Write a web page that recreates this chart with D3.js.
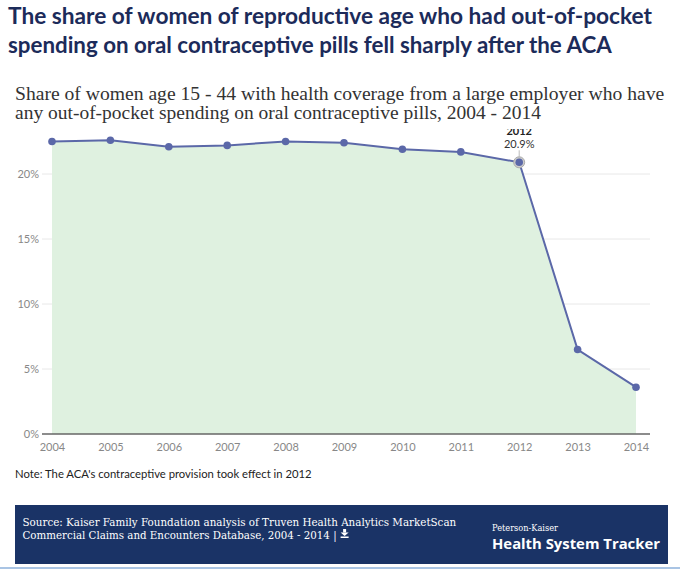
<!DOCTYPE html>
<html>
<head>
<meta charset="utf-8">
<script src="https://cdn.jsdelivr.net/npm/d3@7"></script>
<style>
  html, body { margin: 0; padding: 0; background: #fff; }
  svg { display: block; }
</style>
</head>
<body>
<svg id="chart" width="680" height="573"></svg>
<script>
const years = [2004, 2005, 2006, 2007, 2008, 2009, 2010, 2011, 2012, 2013, 2014];
const shares = [22.5, 22.6, 22.1, 22.2, 22.5, 22.4, 21.9, 21.7, 20.9, 6.5, 3.6];
const yTicks = [0, 5, 10, 15, 20];
const titleLines = [
  "The share of women of reproductive age who had out-of-pocket",
  "spending on oral contraceptive pills fell sharply after the ACA"
];
const subtitleLines = [
  "Share of women age 15 - 44 with health coverage from a large employer who have",
  "any out-of-pocket spending on oral contraceptive pills, 2004 - 2014"
];
const noteText = "Note: The ACA's contraceptive provision took effect in 2012";
const sourceLines = [
  "Source: Kaiser Family Foundation analysis of Truven Health Analytics MarketScan",
  "Commercial Claims and Encounters Database, 2004 - 2014 |"
];
const highlightYear = 2012;

const svg = d3.select("#chart");
const data = years.map((y, i) => ({ year: y, value: shares[i] }));

// scale a text's font size so it spans the given width
function fitWidth(sel, width) {
  const fs = parseFloat(sel.attr("font-size"));
  const len = sel.node().getComputedTextLength();
  if (len > 0) sel.attr("font-size", (fs * width / len).toFixed(2));
  return sel;
}

// Title
titleLines.forEach((t, i) => {
  const tt = svg.append("text")
    .attr("x", 8).attr("y", 24 + i * 29)
    .attr("font-family", "Lato, 'Open Sans', sans-serif")
    .attr("font-weight", 700)
    .attr("font-size", 23)
    .attr("fill", "#1c2b5a")
    .text(t);
  if (i === 0) fitWidth(tt, 644);
  else fitWidth(tt, 604);
});

// Subtitle
subtitleLines.forEach((t, i) => {
  const st = svg.append("text")
    .attr("x", 15).attr("y", 100 + i * 19)
    .attr("font-family", "'Liberation Serif', 'DejaVu Serif', serif")
    .attr("font-size", 18)
    .attr("fill", "#333")
    .text(t);
  if (i === 0) fitWidth(st, 650);
  else fitWidth(st, 526);
});

// Scales
const x = d3.scaleLinear().domain([2004, 2014]).range([52, 636]);
const y = d3.scaleLinear().domain([0, 20]).range([434, 174]);

// Clip
svg.append("defs").append("clipPath").attr("id", "plotclip")
  .append("rect").attr("x", 0).attr("y", 129).attr("width", 680).attr("height", 330);

// Grid
svg.append("g").selectAll("line").data(yTicks.filter(d => d > 0)).join("line")
  .attr("x1", 42).attr("x2", 650)
  .attr("y1", d => y(d)).attr("y2", d => y(d))
  .attr("stroke", "#e8e8e8").attr("stroke-width", 1);

// Area
const area = d3.area().x(d => x(d.year)).y0(y(0)).y1(d => y(d.value));
svg.append("path").datum(data)
  .attr("d", area)
  .attr("fill", "#dff1e0");

// Y axis labels
const yAxis = d3.axisLeft(y).tickValues(yTicks).tickFormat(d => d + "%").tickSize(0).tickPadding(0);
const yg = svg.append("g").attr("transform", "translate(39,0)").call(yAxis);
yg.select(".domain").remove();
yg.selectAll("text")
  .attr("font-family", "Lato, 'Open Sans', sans-serif")
  .attr("font-size", 11)
  .attr("fill", "#888")
  .attr("dy", "0.32em");

// X axis
const xAxis = d3.axisBottom(x).tickValues(years).tickFormat(d3.format("d")).tickSize(0).tickPadding(9);
const xg = svg.append("g").attr("transform", `translate(0,${y(0)})`).call(xAxis);
xg.select(".domain").remove();
xg.selectAll("text")
  .attr("font-family", "Lato, 'Open Sans', sans-serif")
  .attr("font-size", 11)
  .attr("fill", "#888");
svg.append("line")
  .attr("x1", 42).attr("x2", 650).attr("y1", y(0)).attr("y2", y(0))
  .attr("stroke", "#666").attr("stroke-width", 1.5);

// Line
const line = d3.line().x(d => x(d.year)).y(d => y(d.value));
svg.append("path").datum(data)
  .attr("d", line)
  .attr("fill", "none")
  .attr("stroke", "#5b68a8")
  .attr("stroke-width", 2);

// Highlight ring
const hl = data.find(d => d.year === highlightYear);
svg.append("circle")
  .attr("cx", x(hl.year)).attr("cy", y(hl.value)).attr("r", 5.5)
  .attr("fill", "#ccc").attr("stroke", "#aaa").attr("stroke-width", 1);

// Points
svg.selectAll("circle.pt").data(data).join("circle")
  .attr("class", "pt")
  .attr("cx", d => x(d.year)).attr("cy", d => y(d.value))
  .attr("r", 3.8)
  .attr("fill", "#5b68a8");

// Annotation
const ann = svg.append("g").attr("clip-path", "url(#plotclip)");
ann.append("line")
  .attr("x1", x(hl.year)).attr("x2", x(hl.year))
  .attr("y1", y(hl.value) - 12).attr("y2", y(hl.value) - 5)
  .attr("stroke", "#bbb").attr("stroke-width", 1);
ann.append("text")
  .attr("x", x(hl.year)).attr("y", 135)
  .attr("text-anchor", "middle")
  .attr("font-family", "Lato, 'Open Sans', sans-serif")
  .attr("font-weight", 700)
  .attr("font-size", 11)
  .attr("fill", "#222")
  .text(hl.year);
ann.append("text")
  .attr("x", x(hl.year)).attr("y", 148)
  .attr("text-anchor", "middle")
  .attr("font-family", "Lato, 'Open Sans', sans-serif")
  .attr("font-size", 11)
  .attr("fill", "#333")
  .text(d3.format(".1f")(hl.value) + "%");

// Note
const note = svg.append("text")
  .attr("x", 15).attr("y", 478)
  .attr("font-family", "Lato, 'Open Sans', sans-serif")
  .attr("font-size", 11.5)
  .attr("fill", "#222")
  .text(noteText);
fitWidth(note, 297);

// Footer
svg.append("rect")
  .attr("x", 15).attr("y", 505).attr("width", 653).attr("height", 59)
  .attr("fill", "#1a3366");
let srcEnd = 0;
sourceLines.forEach((t, i) => {
  const s = svg.append("text")
    .attr("x", 22.5).attr("y", 526 + i * 12.5)
    .attr("font-family", "'DejaVu Serif', 'Liberation Serif', serif")
    .attr("font-size", 11)
    .attr("fill", "#fff")
    .text(t);
  if (i === 0) fitWidth(s, 434);
  else { fitWidth(s, 314); srcEnd = 22.5 + s.node().getComputedTextLength(); }
});
// download icon
const icon = svg.append("g").attr("transform", `translate(${srcEnd + 4},529)`).attr("fill", "#fff");
icon.append("rect").attr("x", 2.5).attr("y", 0).attr("width", 3).attr("height", 3.5);
icon.append("path").attr("d", "M0,3.5 L8,3.5 L4,7 Z");
icon.append("rect").attr("x", 0).attr("y", 7.5).attr("width", 8).attr("height", 1.5);

const pk = svg.append("text")
  .attr("x", 492).attr("y", 531)
  .attr("font-family", "'DejaVu Serif', 'Liberation Serif', serif")
  .attr("font-size", 9)
  .attr("fill", "#fff")
  .text("Peterson-Kaiser");
fitWidth(pk, 66);
const hst = svg.append("text")
  .attr("x", 492).attr("y", 549)
  .attr("font-family", "'Open Sans', Lato, sans-serif")
  .attr("font-weight", 700)
  .attr("font-size", 16.5)
  .attr("fill", "#fff")
  .text("Health System Tracker");
fitWidth(hst, 168);

svg.append("rect")
  .attr("x", 0).attr("y", 567).attr("width", 680).attr("height", 2)
  .attr("fill", "#a9c4e4");
</script>
</body>
</html>
